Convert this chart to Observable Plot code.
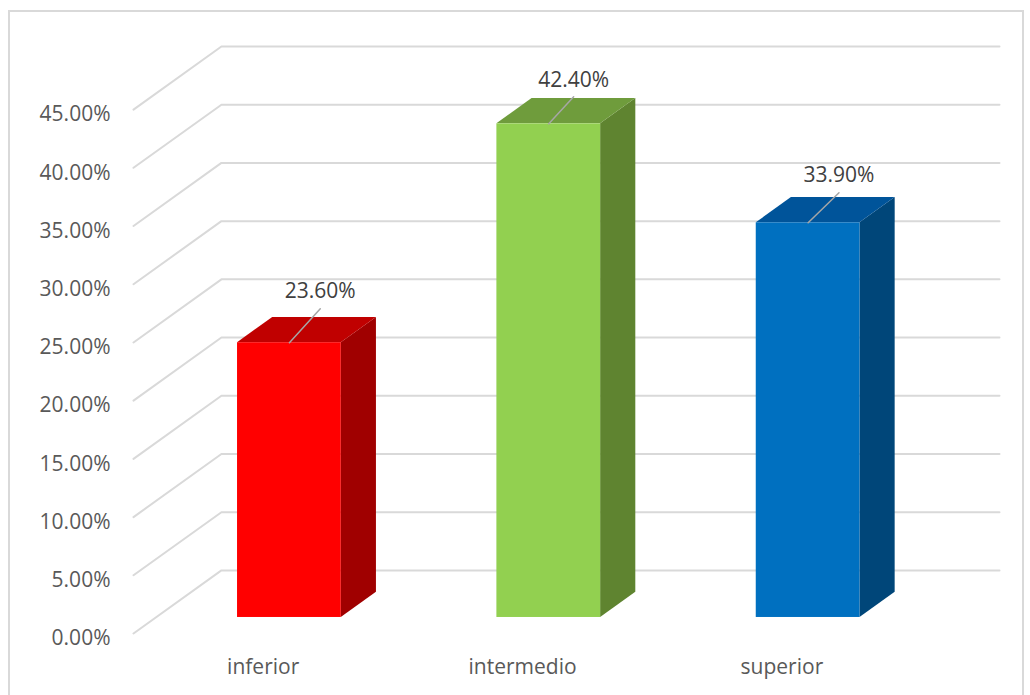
<!DOCTYPE html>
<html><head><meta charset="utf-8">
<script src="https://cdn.jsdelivr.net/npm/d3@7"></script>
<script src="https://cdn.jsdelivr.net/npm/@observablehq/plot@0.6"></script>
<style>html,body{margin:0;padding:0;background:#fff;overflow:hidden}
#c{position:relative;width:1030px;height:695px}
#c svg{position:absolute;left:0;top:0}
#b{position:absolute;left:8px;top:10px;width:1016px;height:700px;border:2px solid #d9d9d9;box-sizing:border-box}</style>
</head><body><div id="c"><div id="b"></div></div>
<script>
const categories = ["inferior", "intermedio", "superior"];
const values = [23.6, 42.4, 33.9];
const ticks = [0, 5, 10, 15, 20, 25, 30, 35, 40, 45];
const frontColors = ["#ff0000", "#92d050", "#0070c0"];
const topColors = ["#c00000", "#6f9c3c", "#00549a"];
const sideColors = ["#a00000", "#5f8430", "#004679"];

// oblique projection constants, in scale units
const wallDX = 0.339, wallDY = 5.42;
const barStart = 0.254, barDepth = 0.4;
const barHalf = 0.2, barShift = 0.015;
// how far each data label's leader reaches, in scale units
const leaderX = [0.119, 0.096, 0.119];
const leaderY = [2.92, 2.32, 2.58];
const px = (c, d) => c + d * wallDX;
const py = (v, d) => v + d * wallDY;

const bars = categories.map((name, i) => ({name, i, v: values[i], c: i + 0.5 + barShift}));
const grid = ticks.flatMap(t => [
  {t, x: px(0, 0), y: py(t, 0)},
  {t, x: px(0, 1), y: py(t, 1)},
  {t, x: px(3, 1), y: py(t, 1)}
]);
const sides = bars.flatMap(b => [barStart, barStart + barDepth].map(d => ({
  i: b.i, x: px(b.c + barHalf, d), y1: py(0, d), y2: py(b.v, d)
})));
const tops = bars.flatMap(b => [barStart, barStart + barDepth].map(d => ({
  i: b.i, y: py(b.v, d), x1: px(b.c - barHalf, d), x2: px(b.c + barHalf, d)
})));
const fronts = bars.map(b => ({
  i: b.i, x1: px(b.c - barHalf, barStart), x2: px(b.c + barHalf, barStart),
  y1: py(0, barStart), y2: py(b.v, barStart)
}));
const leaders = bars.flatMap(b => [
  {i: b.i, x: px(b.c, barStart), y: py(b.v, barStart)},
  {i: b.i, x: px(b.c, barStart) + leaderX[b.i], y: py(b.v, barStart) + leaderY[b.i]}
]);
const labels = bars.map(b => ({
  x: px(b.c, barStart) + leaderX[b.i], y: py(b.v, barStart) + leaderY[b.i], s: b.v.toFixed(2) + "%"
}));

const chart = Plot.plot({
  width: 1030, height: 695,
  marginLeft: 133, marginRight: 31, marginTop: 46, marginBottom: 62,
  style: {background: "transparent", fontFamily: "'Open Sans', sans-serif", fontSize: "21px", color: "#595959"},
  x: {domain: [0, 3 + wallDX], axis: null},
  y: {domain: [0, 45 + wallDY], axis: null},
  marks: [
    Plot.line(grid, {x: "x", y: "y", z: "t", stroke: "#d9d9d9", strokeWidth: 2}),
    Plot.area(sides, {x1: "x", y1: "y1", y2: "y2", z: "i", fill: d => sideColors[d.i]}),
    Plot.area(tops, {x1: "x1", x2: "x2", y1: "y", z: "i", fill: d => topColors[d.i]}),
    Plot.rect(fronts, {x1: "x1", x2: "x2", y1: "y1", y2: "y2", fill: d => frontColors[d.i]}),
    Plot.line(leaders, {x: "x", y: "y", z: "i", stroke: "#a6a6a6", strokeWidth: 1.5}),
    Plot.text(labels, {x: "x", y: "y", text: "s", dy: -17, fill: "#404040", fontSize: 21}),
    Plot.axisY({ticks, tickSize: 0, tickPadding: 23, tickFormat: d => d.toFixed(2) + "%", dy: 5, fill: "#595959", label: null}),
    Plot.axisX({ticks: [0.5, 1.5, 2.5], tickSize: 0, tickPadding: 26, tickFormat: d => categories[d - 0.5 | 0], fill: "#595959", label: null})
  ]
});
document.getElementById("c").appendChild(chart);
</script></body></html>
